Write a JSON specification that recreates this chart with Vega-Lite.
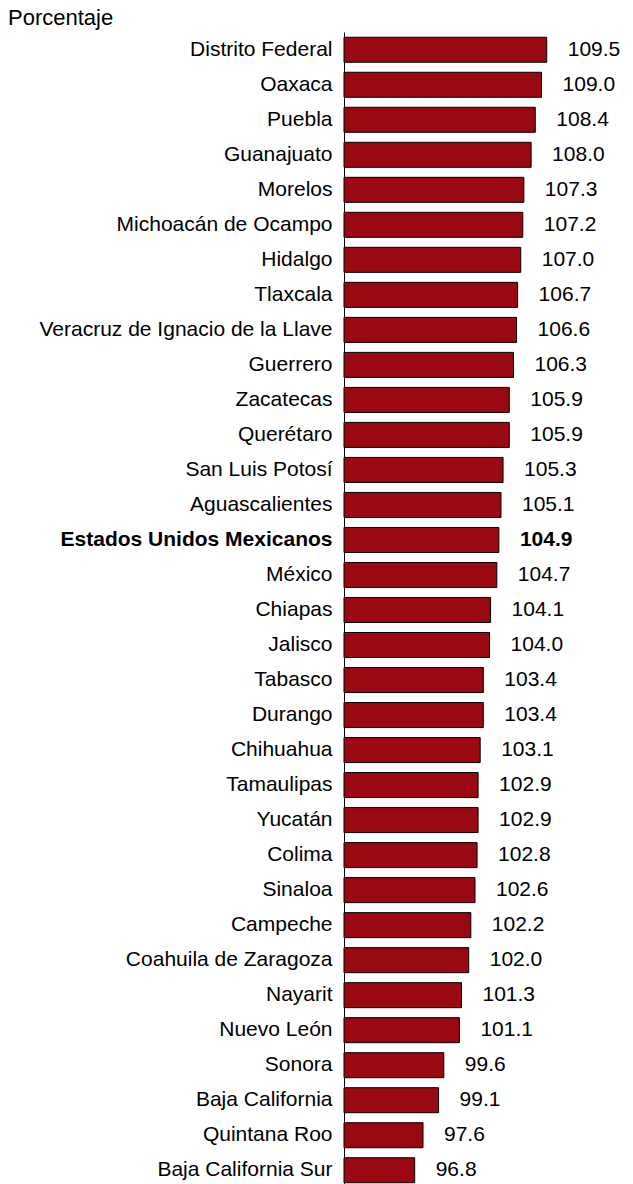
{
  "$schema": "https://vega.github.io/schema/vega-lite/v6.json",
  "autosize": {"type": "none"},
  "padding": {"left": 344, "top": 32, "right": 0, "bottom": 0},
  "width": 289,
  "height": 1156,
  "background": "white",
  "title": {
    "text": "Porcentaje",
    "anchor": "start",
    "frame": "group",
    "dx": -336,
    "dy": 4,
    "offset": 6,
    "fontSize": 22,
    "fontWeight": "normal",
    "font": "Liberation Sans",
    "color": "black"
  },
  "config": {
    "view": {"stroke": null},
    "font": "Liberation Sans"
  },
  "data": {
    "values": [
      {"estado": "Distrito Federal", "valor": 109.5},
      {"estado": "Oaxaca", "valor": 109.0},
      {"estado": "Puebla", "valor": 108.4},
      {"estado": "Guanajuato", "valor": 108.0},
      {"estado": "Morelos", "valor": 107.3},
      {"estado": "Michoacán de Ocampo", "valor": 107.2},
      {"estado": "Hidalgo", "valor": 107.0},
      {"estado": "Tlaxcala", "valor": 106.7},
      {"estado": "Veracruz de Ignacio de la Llave", "valor": 106.6},
      {"estado": "Guerrero", "valor": 106.3},
      {"estado": "Zacatecas", "valor": 105.9},
      {"estado": "Querétaro", "valor": 105.9},
      {"estado": "San Luis Potosí", "valor": 105.3},
      {"estado": "Aguascalientes", "valor": 105.1},
      {"estado": "Estados Unidos Mexicanos", "valor": 104.9},
      {"estado": "México", "valor": 104.7},
      {"estado": "Chiapas", "valor": 104.1},
      {"estado": "Jalisco", "valor": 104.0},
      {"estado": "Tabasco", "valor": 103.4},
      {"estado": "Durango", "valor": 103.4},
      {"estado": "Chihuahua", "valor": 103.1},
      {"estado": "Tamaulipas", "valor": 102.9},
      {"estado": "Yucatán", "valor": 102.9},
      {"estado": "Colima", "valor": 102.8},
      {"estado": "Sinaloa", "valor": 102.6},
      {"estado": "Campeche", "valor": 102.2},
      {"estado": "Coahuila de Zaragoza", "valor": 102.0},
      {"estado": "Nayarit", "valor": 101.3},
      {"estado": "Nuevo León", "valor": 101.1},
      {"estado": "Sonora", "valor": 99.6},
      {"estado": "Baja California", "valor": 99.1},
      {"estado": "Quintana Roo", "valor": 97.6},
      {"estado": "Baja California Sur", "valor": 96.8}
    ]
  },
  "encoding": {
    "y": {
      "field": "estado",
      "type": "nominal",
      "sort": null,
      "scale": {"paddingInner": 0.2857, "paddingOuter": 0.15},
      "axis": {
        "title": null,
        "ticks": false,
        "grid": false,
        "domain": true,
        "domainColor": "black",
        "domainWidth": 1,
        "labelFontSize": 21,
        "labelFont": "Liberation Sans",
        "labelColor": "black",
        "labelPadding": 12,
        "labelLimit": 400,
        "labelFontWeight": {
          "condition": {"test": "datum.value === 'Estados Unidos Mexicanos'", "value": "bold"},
          "value": "normal"
        }
      }
    }
  },
  "layer": [
    {
      "mark": {"type": "bar", "color": "#9a0812", "stroke": "black", "strokeWidth": 1},
      "encoding": {
        "x": {"field": "valor", "type": "quantitative", "scale": {"domain": [90, 117.8], "zero": false, "nice": false}, "axis": null},
        "x2": {"datum": 90}
      }
    },
    {
      "transform": [{"filter": "datum.estado !== 'Estados Unidos Mexicanos'"}],
      "mark": {"type": "text", "align": "left", "baseline": "middle", "dx": 21, "fontSize": 21, "font": "Liberation Sans", "color": "black"},
      "encoding": {
        "x": {"field": "valor", "type": "quantitative"},
        "text": {"field": "valor", "type": "quantitative", "format": ".1f"}
      }
    },
    {
      "transform": [{"filter": "datum.estado === 'Estados Unidos Mexicanos'"}],
      "mark": {"type": "text", "align": "left", "baseline": "middle", "dx": 21, "fontSize": 21, "fontWeight": "bold", "font": "Liberation Sans", "color": "black"},
      "encoding": {
        "x": {"field": "valor", "type": "quantitative"},
        "text": {"field": "valor", "type": "quantitative", "format": ".1f"}
      }
    }
  ]
}
